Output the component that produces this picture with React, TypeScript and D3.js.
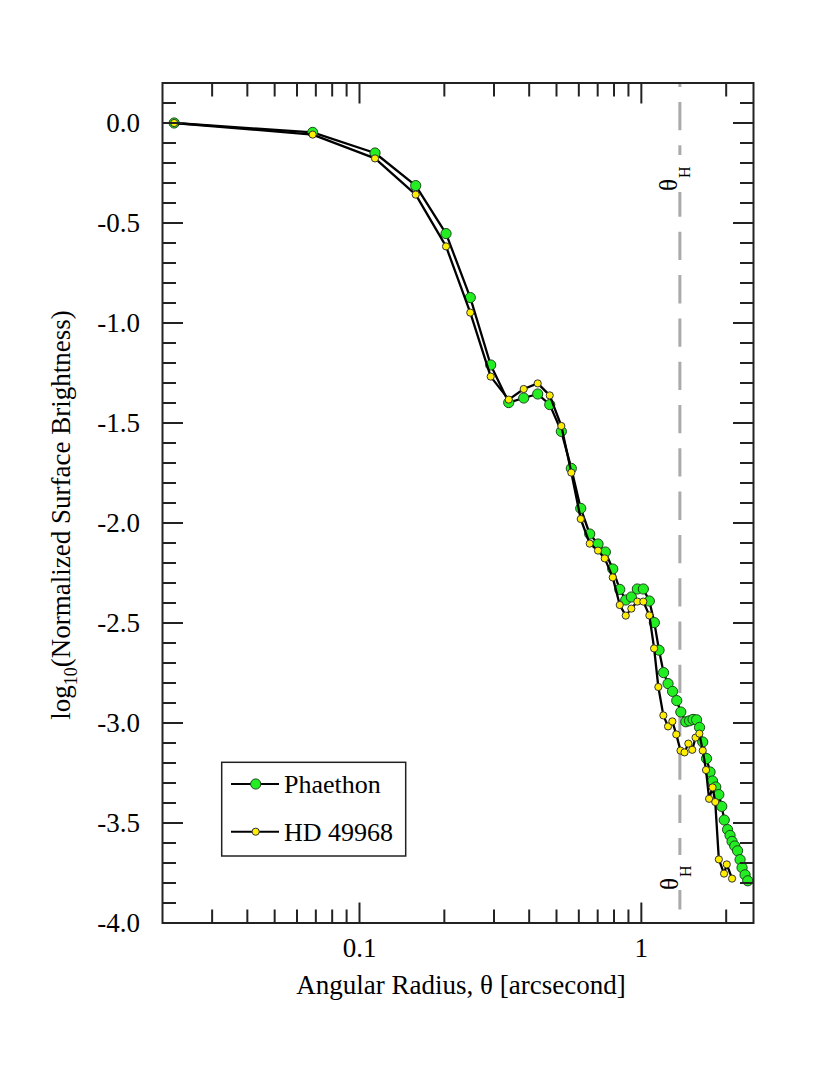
import React from 'react';
import * as d3 from 'd3';

// ---- Data ----
const phaethonTheta = [0.0220, 0.0682, 0.1135, 0.1583, 0.2028, 0.2472, 0.2921, 0.3384, 0.3825, 0.4288, 0.4731, 0.5201, 0.5643, 0.6095, 0.6559, 0.7019, 0.7452, 0.7916, 0.8383, 0.8804, 0.9216, 0.9678, 1.0165, 1.0676, 1.112, 1.1556, 1.199, 1.2437, 1.2904, 1.3355, 1.3806, 1.4381, 1.4826, 1.5257, 1.5699, 1.6088, 1.6513, 1.7034, 1.7531, 1.7893, 1.8365, 1.8836, 1.9288, 1.9687, 2.0225, 2.0643, 2.0983, 2.1447, 2.1946, 2.24, 2.2766, 2.3334, 2.3856];
const phaethonLogSB = [0, -0.047, -0.150, -0.313, -0.553, -0.873, -1.210, -1.398, -1.375, -1.355, -1.408, -1.542, -1.727, -1.927, -2.055, -2.105, -2.145, -2.230, -2.332, -2.385, -2.370, -2.330, -2.330, -2.390, -2.498, -2.636, -2.748, -2.803, -2.842, -2.888, -2.945, -2.994, -2.989, -2.982, -2.984, -3.022, -3.095, -3.178, -3.245, -3.290, -3.320, -3.358, -3.417, -3.485, -3.533, -3.562, -3.592, -3.615, -3.639, -3.683, -3.723, -3.759, -3.789];

const hdTheta = [0.0220, 0.0682, 0.1135, 0.1583, 0.2028, 0.2472, 0.2921, 0.3384, 0.3825, 0.4288, 0.4731, 0.5201, 0.5643, 0.6095, 0.6559, 0.7019, 0.7416, 0.7916, 0.8383, 0.8804, 0.9216, 0.9678, 1.0165, 1.0676, 1.110, 1.149, 1.197, 1.2437, 1.2883, 1.3302, 1.3772, 1.4229, 1.4683, 1.5157, 1.5572, 1.6063, 1.6513, 1.6964, 1.739, 1.7893, 1.829, 1.8836, 1.9654, 2.0094, 2.0983];
const hdLogSB = [0, -0.058, -0.177, -0.358, -0.617, -0.948, -1.268, -1.383, -1.330, -1.302, -1.362, -1.515, -1.748, -1.980, -2.103, -2.138, -2.177, -2.272, -2.410, -2.463, -2.428, -2.393, -2.393, -2.462, -2.627, -2.820, -2.962, -3.017, -2.992, -3.057, -3.138, -3.147, -3.103, -3.134, -3.073, -3.053, -3.138, -3.235, -3.379, -3.322, -3.395, -3.682, -3.753, -3.707, -3.778];

const seriesNames = ['Phaethon', 'HD 49968'];
const xMajorTicks = [0.1, 1];
const xTickLabels = ['0.1', '1'];
const yMajorTicks = [0, -0.5, -1, -1.5, -2, -2.5, -3, -3.5, -4];
const yTickLabels = ['0.0', '-0.5', '-1.0', '-1.5', '-2.0', '-2.5', '-3.0', '-3.5', '-4.0'];
const thetaH = 1.37;
const xDomain = [0.02, 2.5];
const yDomain = [-4, 0.2];

// ---- Layout ----
const W = 830, H = 1075;
const L = 162.5, R = 753.5, T = 83, B = 923;
const FONT = "'Liberation Serif', 'Times New Roman', serif";
const GREEN = '#22ee22';
const YELLOW = '#ffee00';
const AXC = '#222';

export default function App() {
  const x = d3.scaleLog().domain(xDomain).range([L, R]);
  const y = d3.scaleLinear().domain(yDomain).range([B, T]);

  const xMinor: number[] = [];
  [0.01, 0.1, 1].forEach((d) => {
    for (let k = 2; k <= 9; k++) {
      const v = k * d;
      if (v > xDomain[0] * 1.0001 && v < xDomain[1]) xMinor.push(v);
    }
  });
  const yMinor: number[] = [];
  for (let i = -40; i <= 2; i++) {
    if (i % 5 !== 0) yMinor.push(i / 10);
  }
  const MAJ = 20.5, MIN = 13.5;

  const pData = phaethonTheta.map((t, i) => [t, phaethonLogSB[i]] as [number, number]);
  const hData = hdTheta.map((t, i) => [t, hdLogSB[i]] as [number, number]);
  const line = d3.line<[number, number]>().x((d) => x(d[0])).y((d) => y(d[1]));

  const xh = x(thetaH);
  const ts = { fontFamily: FONT };

  return (
    <svg width={W} height={H} style={{ position: 'absolute', left: 0, top: 0, background: '#fff', fontFamily: FONT }}>
      <rect x={0} y={0} width={W} height={H} fill="#fff" />
      {/* theta_H dashed line */}
      <line x1={xh} x2={xh} y1={T} y2={B} stroke="#aaaaaa" strokeWidth={3} strokeDasharray="28.3 15" strokeDashoffset={24.4} />
      {/* knockouts for theta_H labels */}
      <rect x={xh - 7} y={155} width={14} height={37} fill="#fff" />
      <rect x={xh - 7} y={855} width={14} height={35} fill="#fff" />
      <text transform={`translate(${xh - 3},191) rotate(-90)`} fontSize={25} fill="#000" style={ts}>
        θ<tspan fontSize={16} dy={13} dx={1}>H</tspan>
      </text>
      <text transform={`translate(${xh - 2},890) rotate(-90)`} fontSize={25} fill="#000" style={ts}>
        θ<tspan fontSize={16} dy={13} dx={1}>H</tspan>
      </text>

      {/* series */}
      <path d={line(pData) || ''} fill="none" stroke="#000" strokeWidth={2.3} strokeLinejoin="round" />
      {pData.map((d, i) => (
        <circle key={'p' + i} cx={x(d[0])} cy={y(d[1])} r={5.1} fill={GREEN} stroke="#1a4a1a" strokeWidth={1} />
      ))}
      <path d={line(hData) || ''} fill="none" stroke="#000" strokeWidth={2.3} strokeLinejoin="round" />
      {hData.map((d, i) => (
        <circle key={'h' + i} cx={x(d[0])} cy={y(d[1])} r={3.6} fill={YELLOW} stroke="#333" strokeWidth={1} />
      ))}

      {/* frame */}
      <rect x={L} y={T} width={R - L} height={B - T} fill="none" stroke={AXC} strokeWidth={2} />
      {/* x ticks */}
      {xMajorTicks.map((v) => (
        <g key={'xM' + v}>
          <line x1={x(v)} x2={x(v)} y1={B} y2={B - MAJ} stroke={AXC} strokeWidth={2} />
          <line x1={x(v)} x2={x(v)} y1={T} y2={T + MAJ} stroke={AXC} strokeWidth={2} />
        </g>
      ))}
      {xMinor.map((v) => (
        <g key={'xm' + v}>
          <line x1={x(v)} x2={x(v)} y1={B} y2={B - MIN} stroke={AXC} strokeWidth={2} />
          <line x1={x(v)} x2={x(v)} y1={T} y2={T + MIN} stroke={AXC} strokeWidth={2} />
        </g>
      ))}
      {/* y ticks */}
      {yMajorTicks.map((v) => (
        <g key={'yM' + v}>
          <line x1={L} x2={L + MAJ} y1={y(v)} y2={y(v)} stroke={AXC} strokeWidth={2} />
          <line x1={R} x2={R - MAJ} y1={y(v)} y2={y(v)} stroke={AXC} strokeWidth={2} />
        </g>
      ))}
      {yMinor.map((v) => (
        <g key={'ym' + v}>
          <line x1={L} x2={L + MIN} y1={y(v)} y2={y(v)} stroke={AXC} strokeWidth={2} />
          <line x1={R} x2={R - MIN} y1={y(v)} y2={y(v)} stroke={AXC} strokeWidth={2} />
        </g>
      ))}

      {/* tick labels */}
      {yMajorTicks.map((v, i) => (
        <text key={'yl' + v} x={140} y={y(v) + 9} fontSize={27} textAnchor="end" fill="#000" style={ts}>{yTickLabels[i]}</text>
      ))}
      {xMajorTicks.map((v, i) => (
        <text key={'xl' + v} x={x(v)} y={957} fontSize={27} textAnchor="middle" fill="#000" style={ts}>{xTickLabels[i]}</text>
      ))}

      {/* axis titles */}
      <text x={(L + R) / 2 + 3} y={994} fontSize={27} textAnchor="middle" fill="#000" style={ts}>Angular Radius, θ [arcsecond]</text>
      <text transform={`translate(70,515) rotate(-90)`} fontSize={27} textAnchor="middle" fill="#000" style={ts}>
        log<tspan fontSize={18} dy={7}>10</tspan><tspan dy={-7}>(Normalized Surface Brightness)</tspan>
      </text>

      {/* legend */}
      <rect x={221.7} y={762.3} width={184} height={93.7} fill="#fff" stroke={AXC} strokeWidth={1.5} />
      {seriesNames.map((name, i) => {
        const cy = i === 0 ? 784 : 831.7;
        return (
          <g key={name}>
            <line x1={231} x2={279} y1={cy} y2={cy} stroke="#000" strokeWidth={2} />
            <circle cx={255.7} cy={cy} r={i === 0 ? 5.1 : 3.6} fill={i === 0 ? GREEN : YELLOW} stroke={i === 0 ? '#1a4a1a' : '#333'} strokeWidth={1} />
            <text x={284} y={cy + 8.8} fontSize={26} fill="#000" style={ts}>{name}</text>
          </g>
        );
      })}
    </svg>
  );
}
